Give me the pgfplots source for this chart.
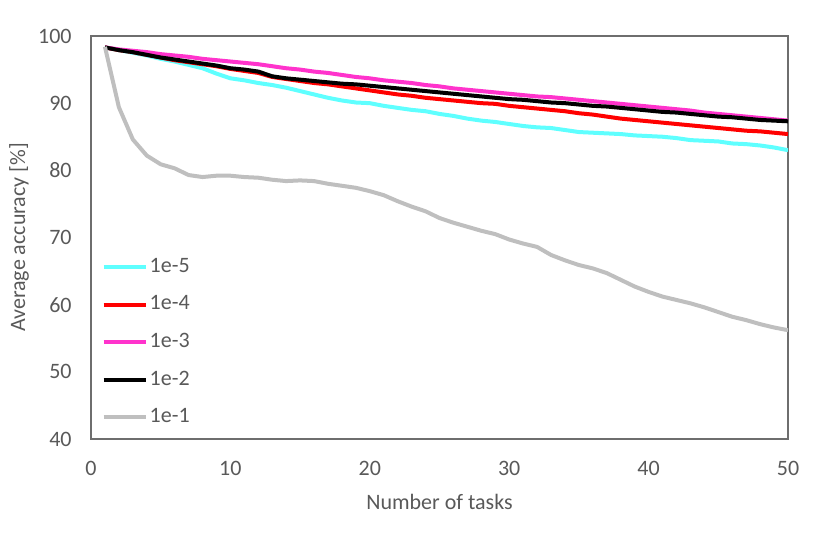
\documentclass[border=0pt]{standalone}
\usepackage{pgfplots}
\pgfplotsset{compat=1.18}
\usepackage{fontspec}
\setmainfont{Carlito}
\definecolor{cA}{HTML}{5FFFFF}
\definecolor{cB}{HTML}{FF0000}
\definecolor{cC}{HTML}{FF33CC}
\definecolor{cD}{HTML}{000000}
\definecolor{cE}{HTML}{BFBFBF}
\definecolor{txt}{HTML}{595959}
\definecolor{frm}{HTML}{6E6E6E}
\begin{document}
\begin{tikzpicture}
\useasboundingbox (-68.25pt,-71.25pt) rectangle (554.25pt,329.25pt);
\begin{axis}[
  at={(0,0)}, anchor=south west,
  scale only axis, width=522.75pt, height=302.25pt,
  xmin=0, xmax=50, ymin=40, ymax=100,
  xtick={0,10,...,50}, ytick={40,50,...,100},
  major tick length=0pt,
  axis line style={frm, line width=0.8pt},
  /pgf/number format/assume math mode=true,
  tick label style={font=\fontsize{16.5}{19}\selectfont, text=txt},
  xticklabel style={yshift=-13pt},
  yticklabel style={xshift=-11pt},
  xlabel={Number of tasks}, ylabel={Average accuracy [\%]},
  label style={font=\fontsize{16.5}{19}\selectfont, text=txt},
  xlabel style={yshift=-7pt},
  ylabel style={yshift=0pt},
  legend cell align=left,
  legend style={at={(0.015,0.454)}, anchor=north west, draw=none, fill=none,
    font=\fontsize{16.5}{19}\selectfont, text=txt,
    row sep=12.2pt, inner sep=0pt,
    nodes={inner sep=1pt, text height=11pt, text depth=3pt}},
  legend image code/.code={\draw[#1] (0pt,0pt) -- (32pt,0pt);},
  every axis plot/.append style={line width=3pt, line join=round},
]
\addplot[cA] coordinates {(1,98.3)(2,97.9)(3,97.5)(4,97.1)(5,96.6)(6,96.2)(7,95.7)(8,95.2)(9,94.4)(10,93.7)(11,93.4)(12,93.0)(13,92.7)(14,92.3)(15,91.8)(16,91.3)(17,90.8)(18,90.4)(19,90.1)(20,90.0)(21,89.6)(22,89.3)(23,89.0)(24,88.8)(25,88.4)(26,88.1)(27,87.7)(28,87.4)(29,87.2)(30,86.9)(31,86.6)(32,86.4)(33,86.3)(34,86.0)(35,85.7)(36,85.6)(37,85.5)(38,85.4)(39,85.2)(40,85.1)(41,85.0)(42,84.8)(43,84.5)(44,84.4)(45,84.3)(46,84.0)(47,83.9)(48,83.7)(49,83.4)(50,83.0)};
\addlegendentry{1e-5}
\addplot[cB] coordinates {(1,98.3)(2,97.9)(3,97.6)(4,97.2)(5,96.8)(6,96.4)(7,96.1)(8,95.8)(9,95.5)(10,95.1)(11,94.8)(12,94.5)(13,93.9)(14,93.6)(15,93.3)(16,93.0)(17,92.8)(18,92.5)(19,92.2)(20,91.9)(21,91.6)(22,91.3)(23,91.1)(24,90.8)(25,90.6)(26,90.4)(27,90.2)(28,90.0)(29,89.9)(30,89.6)(31,89.4)(32,89.2)(33,89.0)(34,88.8)(35,88.5)(36,88.3)(37,88.0)(38,87.7)(39,87.5)(40,87.3)(41,87.1)(42,86.9)(43,86.7)(44,86.5)(45,86.3)(46,86.1)(47,85.9)(48,85.8)(49,85.6)(50,85.4)};
\addlegendentry{1e-4}
\addplot[cC] coordinates {(1,98.3)(2,98.0)(3,97.8)(4,97.6)(5,97.3)(6,97.1)(7,96.9)(8,96.6)(9,96.4)(10,96.2)(11,96.0)(12,95.8)(13,95.5)(14,95.2)(15,95.0)(16,94.7)(17,94.5)(18,94.2)(19,93.9)(20,93.7)(21,93.4)(22,93.2)(23,93.0)(24,92.7)(25,92.5)(26,92.2)(27,92.0)(28,91.8)(29,91.6)(30,91.4)(31,91.2)(32,91.0)(33,90.9)(34,90.7)(35,90.5)(36,90.3)(37,90.1)(38,89.9)(39,89.7)(40,89.5)(41,89.3)(42,89.1)(43,88.9)(44,88.6)(45,88.4)(46,88.2)(47,88.0)(48,87.8)(49,87.6)(50,87.4)};
\addlegendentry{1e-3}
\addplot[cD] coordinates {(1,98.3)(2,97.9)(3,97.6)(4,97.2)(5,96.8)(6,96.5)(7,96.2)(8,95.9)(9,95.6)(10,95.2)(11,95.0)(12,94.7)(13,94.0)(14,93.7)(15,93.5)(16,93.3)(17,93.1)(18,92.9)(19,92.8)(20,92.6)(21,92.4)(22,92.2)(23,92.0)(24,91.8)(25,91.6)(26,91.4)(27,91.2)(28,91.0)(29,90.8)(30,90.6)(31,90.5)(32,90.3)(33,90.1)(34,90.0)(35,89.8)(36,89.6)(37,89.5)(38,89.3)(39,89.1)(40,88.9)(41,88.7)(42,88.6)(43,88.4)(44,88.2)(45,88.0)(46,87.9)(47,87.7)(48,87.5)(49,87.4)(50,87.3)};
\addlegendentry{1e-2}
\addplot[cE] coordinates {(1,98.4)(2,89.4)(3,84.6)(4,82.2)(5,80.9)(6,80.3)(7,79.3)(8,79.0)(9,79.2)(10,79.2)(11,79.0)(12,78.9)(13,78.6)(14,78.4)(15,78.5)(16,78.4)(17,78.0)(18,77.7)(19,77.4)(20,76.9)(21,76.3)(22,75.4)(23,74.6)(24,73.9)(25,72.9)(26,72.2)(27,71.6)(28,71.0)(29,70.5)(30,69.7)(31,69.1)(32,68.6)(33,67.4)(34,66.6)(35,65.9)(36,65.4)(37,64.7)(38,63.7)(39,62.7)(40,61.9)(41,61.2)(42,60.7)(43,60.2)(44,59.6)(45,58.9)(46,58.2)(47,57.7)(48,57.1)(49,56.6)(50,56.2)};
\addlegendentry{1e-1}
\end{axis}
\end{tikzpicture}
\end{document}
